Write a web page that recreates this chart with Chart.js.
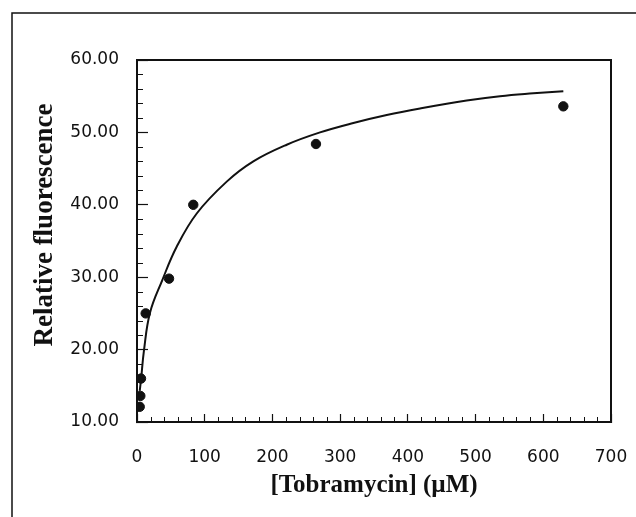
<!DOCTYPE html>
<html>
<head>
<meta charset="utf-8">
<script src="https://cdn.jsdelivr.net/npm/chart.js@4.4.0/dist/chart.umd.min.js"></script>
<style>
  html, body { margin: 0; padding: 0; background: #fff; }
  #wrap { position: relative; width: 636px; height: 517px; }
</style>
</head>
<body>
<div id="wrap"><canvas id="c" width="636" height="517"></canvas></div>
<script>
// Measured data points: [Tobramycin] (µM) vs relative fluorescence
const concentrations = [4, 4.9, 5.9, 12.8, 47.3, 83.1, 264.3, 629.6];
const fluorescence   = [12.1, 13.6, 16.0, 25.0, 29.8, 40.0, 48.4, 53.6];

// Fitted curve
const curveX = [4, 5.9, 10.3, 19.2, 37.4, 58.6, 88.2, 132.5, 171.8, 221.1, 270.3, 319.5, 368.8, 418, 486.9, 536.1, 585.3, 629.6];
const curveY = [14.3, 15.8, 19.9, 25.1, 29.6, 34.2, 38.8, 43.2, 46.0, 48.3, 50.0, 51.3, 52.4, 53.3, 54.4, 55.0, 55.4, 55.7];

const xTickValues = [0, 100, 200, 300, 400, 500, 600, 700];
const yTickValues = [10, 20, 30, 40, 50, 60];
const xMinorStep = 20;
const yMinorStep = 2;

const xTitle = '[Tobramycin] (\u00B5M)';
const yTitle = 'Relative fluorescence';

const tickFont = { family: 'DejaVu Sans', size: 17 };
const titleFont = '700 27px "Liberation Serif"';

const framePlugin = {
  id: 'frame',
  beforeDraw(chart) {
    const ctx = chart.ctx;
    ctx.save();
    ctx.strokeStyle = '#111';
    ctx.lineWidth = 1.5;
    ctx.beginPath();
    ctx.moveTo(12, 517);
    ctx.lineTo(12, 13);
    ctx.lineTo(636, 13);
    ctx.stroke();
    ctx.restore();
  },
  afterDatasetsDraw(chart) {
    const ctx = chart.ctx;
    const a = chart.chartArea;
    const xs = chart.scales.x, ys = chart.scales.y;
    ctx.save();
    ctx.strokeStyle = '#111';
    ctx.lineWidth = 2;
    ctx.strokeRect(a.left, a.top, a.right - a.left, a.bottom - a.top);
    // minor ticks (inward)
    ctx.lineWidth = 1;
    ctx.beginPath();
    for (let v = xs.min; v <= xs.max; v += xMinorStep) {
      if (xTickValues.includes(v)) continue;
      const px = Math.round(xs.getPixelForValue(v)) + 0.5;
      ctx.moveTo(px, a.bottom);
      ctx.lineTo(px, a.bottom - 5);
    }
    for (let v = ys.min; v <= ys.max; v += yMinorStep) {
      if (yTickValues.includes(v)) continue;
      const py = Math.round(ys.getPixelForValue(v)) + 0.5;
      ctx.moveTo(a.left, py);
      ctx.lineTo(a.left + 6, py);
    }
    ctx.stroke();
    // y axis title
    ctx.fillStyle = '#111';
    ctx.font = titleFont;
    ctx.textAlign = 'center';
    ctx.textBaseline = 'middle';
    ctx.translate(45, 225);
    ctx.rotate(-Math.PI / 2);
    ctx.fillText(yTitle, 0, 0);
    ctx.restore();
  }
};

new Chart(document.getElementById('c'), {
  type: 'scatter',
  data: {
    datasets: [
      {
        type: 'line',
        label: 'fit',
        data: curveX.map((x, i) => ({ x, y: curveY[i] })),
        borderColor: '#111',
        borderWidth: 2,
        pointRadius: 0,
        fill: false,
        tension: 0.4
      },
      {
        label: 'data',
        data: concentrations.map((x, i) => ({ x, y: fluorescence[i] })),
        backgroundColor: '#111',
        borderColor: '#111',
        pointRadius: 4.7,
        pointHoverRadius: 4.7
      }
    ]
  },
  options: {
    responsive: false,
    animation: false,
    devicePixelRatio: 1,
    layout: { padding: { top: 60, right: 25, left: 0, bottom: 0 } },
    plugins: { legend: { display: false }, tooltip: { enabled: false } },
    scales: {
      x: {
        type: 'linear',
        min: 0, max: 700,
        afterBuildTicks: s => { s.ticks = xTickValues.map(v => ({ value: v })); },
        afterFit: s => { s.height = 95; s.paddingLeft = 0; s.paddingRight = 0; },
        border: { display: true, color: '#111', width: 2 },
        grid: { drawOnChartArea: false, drawTicks: true, tickLength: -8, color: '#111', tickColor: '#111', tickWidth: 1.2 },
        ticks: { color: '#111', font: tickFont, padding: 33, maxRotation: 0, callback: v => String(v) },
        title: { display: true, text: xTitle, color: '#111', font: { family: 'Liberation Serif', size: 25, weight: 'bold' }, padding: { top: 0, bottom: 16 } }
      },
      y: {
        type: 'linear',
        min: 10, max: 60,
        afterBuildTicks: s => { s.ticks = yTickValues.map(v => ({ value: v })); },
        afterFit: s => { s.width = 137; s.paddingTop = 0; s.paddingBottom = 0; },
        border: { display: true, color: '#111', width: 2 },
        grid: { drawOnChartArea: false, drawTicks: true, tickLength: -11, color: '#111', tickColor: '#111', tickWidth: 1.2 },
        ticks: { color: '#111', font: tickFont, padding: 29, callback: v => v.toFixed(2) }
      }
    }
  },
  plugins: [framePlugin]
});
</script>
</body>
</html>
